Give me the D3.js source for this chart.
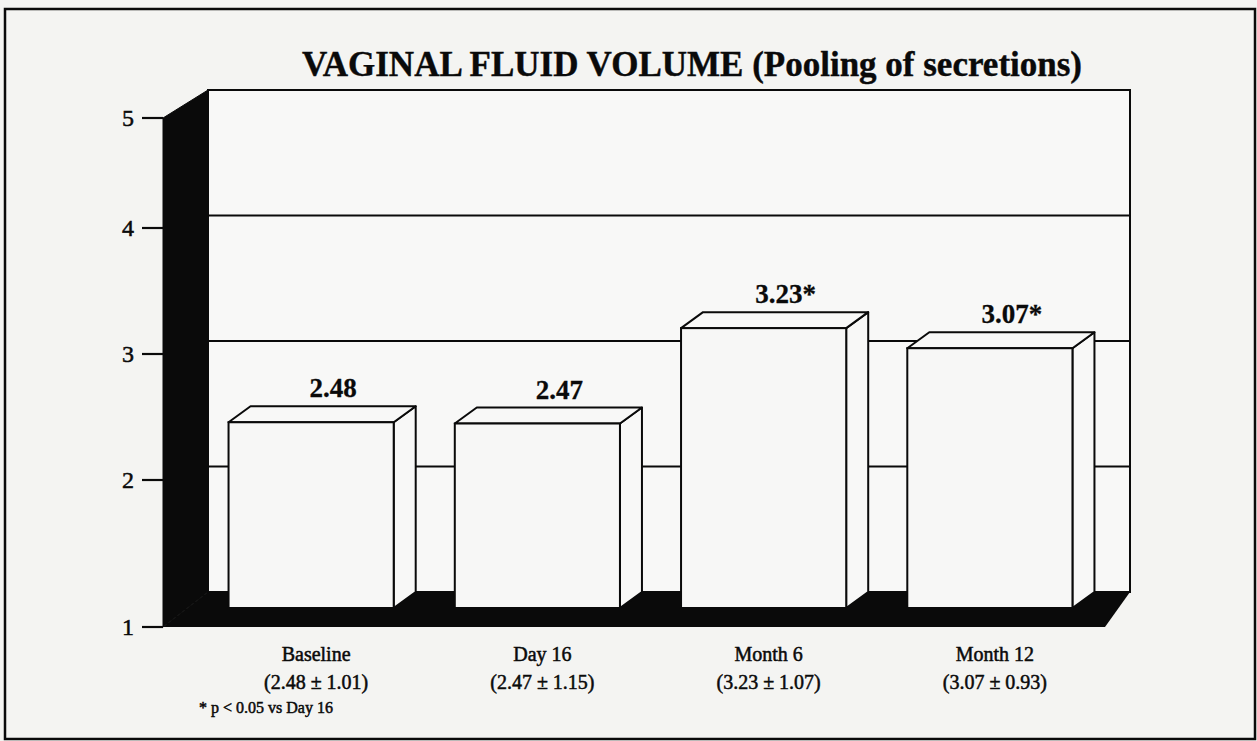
<!DOCTYPE html>
<html>
<head>
<meta charset="utf-8">
<script src="https://cdn.jsdelivr.net/npm/d3@7"></script>
<style>
  body { margin: 0; background: #f4f4f2; }
  svg { display: block; }
  text { font-family: "Liberation Serif", "Times New Roman", serif; fill: #0a0a0a; }
</style>
</head>
<body>
<div id="chart"></div>
<script>
// chart data
const categories = ["Baseline", "Day 16", "Month 6", "Month 12"];
const values = [2.48, 2.47, 3.23, 3.07];
const valueLabels = ["2.48", "2.47", "3.23*", "3.07*"];
const sdLabels = ["(2.48 \u00b1 1.01)", "(2.47 \u00b1 1.15)", "(3.23 \u00b1 1.07)", "(3.07 \u00b1 0.93)"];
const yTicks = [1, 2, 3, 4, 5];
const gridValues = [2, 3, 4];
const titleText = "VAGINAL FLUID VOLUME (Pooling of secretions)";
const footnote = "* p < 0.05 vs Day 16";

const width = 1257, height = 741;
const ink = "#0a0a0a";

const svg = d3.select("#chart").append("svg")
    .attr("width", width)
    .attr("height", height);

// paper + frame
svg.append("rect")
    .attr("x", 0).attr("y", 0)
    .attr("width", width).attr("height", height)
    .attr("fill", "#f4f4f2");
svg.append("rect")
    .attr("x", 5).attr("y", 9)
    .attr("width", 1250).attr("height", 730)
    .attr("fill", "none")
    .attr("stroke", ink)
    .attr("stroke-width", 2.5);

// scales: back plane and front edge of the axis wall
const yBack = d3.scaleLinear().domain([1, 5]).range([592, 90]);
const yFront = d3.scaleLinear().domain([1, 2, 4, 5]).range([627, 480, 228, 118]);
const x = d3.scaleBand()
    .domain(categories)
    .range([220, 1125])
    .paddingInner(0.27)
    .paddingOuter(0.135);

const wallBackX = 208, wallFrontX = 163, backRight = 1130, floorFrontRight = 1105;
const depthX = 22, depthY = 16; // bar thickness

// title
svg.append("text")
    .attr("x", 692)
    .attr("y", 76)
    .attr("text-anchor", "middle")
    .attr("font-size", 35)
    .attr("font-weight", "bold")
    .attr("stroke", ink)
    .attr("stroke-width", 0.4)
    .text(titleText);

// back wall
svg.append("rect")
    .attr("x", wallBackX)
    .attr("y", yBack(5))
    .attr("width", backRight - wallBackX)
    .attr("height", yBack(1) - yBack(5))
    .attr("fill", "#f8f8f7")
    .attr("stroke", ink)
    .attr("stroke-width", 2);

svg.selectAll(".grid")
    .data(gridValues)
    .enter()
    .append("line")
    .attr("class", "grid")
    .attr("x1", wallBackX)
    .attr("x2", backRight)
    .attr("y1", d => yBack(d))
    .attr("y2", d => yBack(d))
    .attr("stroke", ink)
    .attr("stroke-width", 2);

// floor
svg.append("polygon")
    .attr("points", [
        [wallBackX, yBack(1)], [backRight, yBack(1)],
        [floorFrontRight, yFront(1)], [wallFrontX, yFront(1)]
    ].join(" "))
    .attr("fill", ink);

// left wall
svg.append("polygon")
    .attr("points", [
        [wallFrontX, yFront(5)], [wallBackX, yBack(5)],
        [wallBackX, yBack(1)], [wallFrontX, yFront(1)]
    ].join(" "))
    .attr("fill", ink)
    .attr("stroke", ink)
    .attr("stroke-width", 1);

// y ticks
svg.selectAll(".tick")
    .data(yTicks)
    .enter()
    .append("line")
    .attr("class", "tick")
    .attr("x1", 142)
    .attr("x2", wallFrontX)
    .attr("y1", d => yFront(d))
    .attr("y2", d => yFront(d))
    .attr("stroke", ink)
    .attr("stroke-width", 2.2);

svg.selectAll(".tickLabel")
    .data(yTicks)
    .enter()
    .append("text")
    .attr("class", "tickLabel")
    .attr("x", 134)
    .attr("y", d => yFront(d) + 8)
    .attr("text-anchor", "end")
    .attr("font-size", 24)
    .attr("stroke", ink)
    .attr("stroke-width", 0.5)
    .text(d => d);

// bars
const bw = x.bandwidth();
const bars = svg.selectAll(".bar")
    .data(categories.map((c, i) => ({cat: c, value: values[i], label: valueLabels[i], sd: sdLabels[i]})))
    .enter()
    .append("g")
    .attr("class", "bar");

function frontX(d) { return x(d.cat) - depthX; }
function frontTop(d) { return yBack(d.value) + depthY; }
const frontBottom = yBack(1) + depthY;

// side face
bars.append("polygon")
    .attr("points", d => [
        [frontX(d) + bw, frontTop(d)], [x(d.cat) + bw, yBack(d.value)],
        [x(d.cat) + bw, yBack(1)], [frontX(d) + bw, frontBottom]
    ].join(" "))
    .attr("fill", "#f8f8f7")
    .attr("stroke", ink)
    .attr("stroke-width", 2)
    .attr("stroke-linejoin", "round");

// top face
bars.append("polygon")
    .attr("points", d => [
        [frontX(d), frontTop(d)], [x(d.cat), yBack(d.value)],
        [x(d.cat) + bw, yBack(d.value)], [frontX(d) + bw, frontTop(d)]
    ].join(" "))
    .attr("fill", "#f8f8f7")
    .attr("stroke", ink)
    .attr("stroke-width", 2)
    .attr("stroke-linejoin", "round");

// front face
bars.append("rect")
    .attr("x", d => frontX(d))
    .attr("y", d => frontTop(d))
    .attr("width", bw)
    .attr("height", d => frontBottom - frontTop(d))
    .attr("fill", "#f7f7f6")
    .attr("stroke", ink)
    .attr("stroke-width", 2);

// value labels
bars.append("text")
    .attr("x", d => x(d.cat) + bw / 2)
    .attr("y", d => yBack(d.value) - 9)
    .attr("text-anchor", "middle")
    .attr("font-size", 27)
    .attr("font-weight", "bold")
    .attr("stroke", ink)
    .attr("stroke-width", 0.3)
    .text(d => d.label);

// category labels
bars.append("text")
    .attr("x", d => x(d.cat) + bw / 2 - 17)
    .attr("y", yFront(1) + 34)
    .attr("text-anchor", "middle")
    .attr("font-size", 20)
    .attr("stroke", ink)
    .attr("stroke-width", 0.5)
    .text(d => d.cat);

bars.append("text")
    .attr("x", d => x(d.cat) + bw / 2 - 17)
    .attr("y", yFront(1) + 62)
    .attr("text-anchor", "middle")
    .attr("font-size", 20)
    .attr("stroke", ink)
    .attr("stroke-width", 0.5)
    .text(d => d.sd);

// footnote
svg.append("text")
    .attr("x", 199)
    .attr("y", 713)
    .attr("font-size", 16)
    .attr("stroke", ink)
    .attr("stroke-width", 0.5)
    .text(footnote);
</script>
</body>
</html>
